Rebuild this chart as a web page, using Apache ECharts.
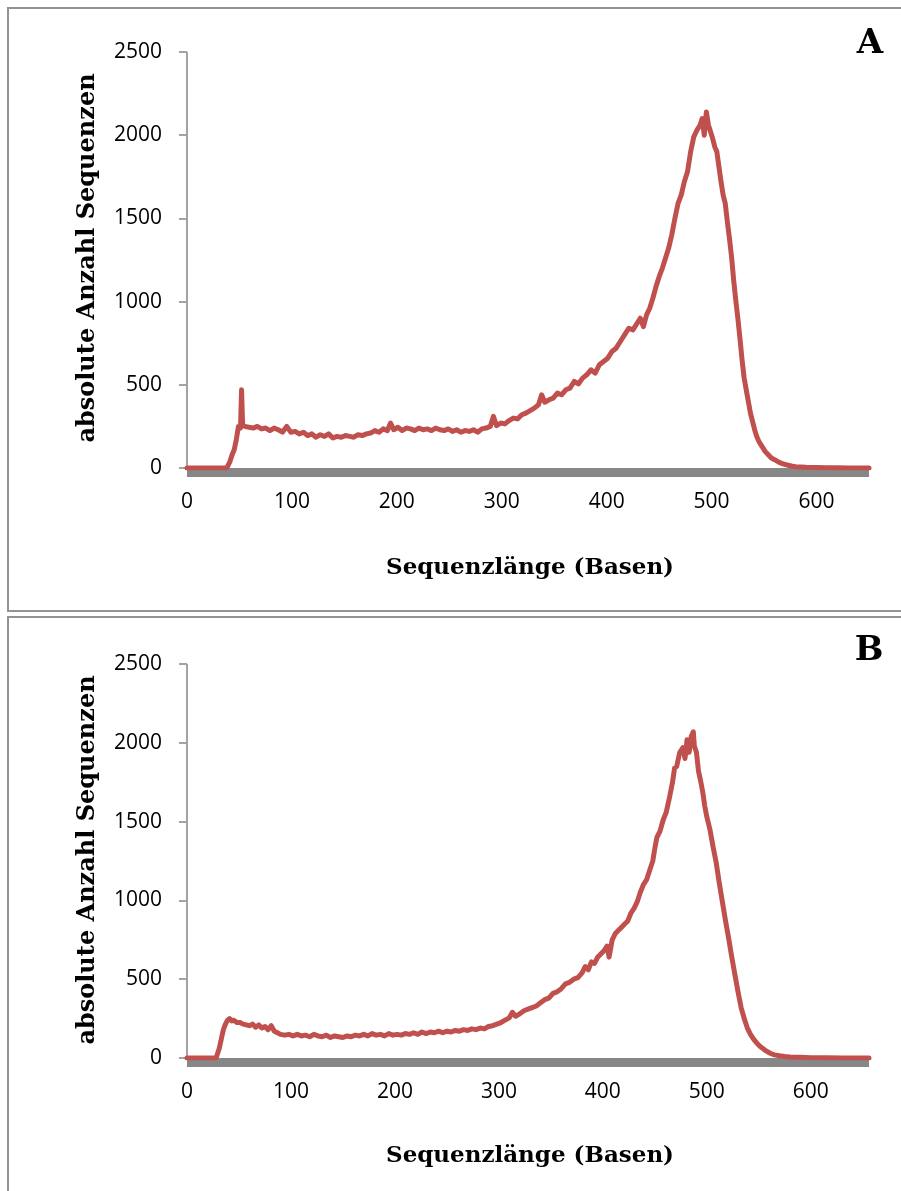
<!DOCTYPE html>
<html>
<head>
<meta charset="utf-8">
<script src="https://cdn.jsdelivr.net/npm/echarts@6/dist/echarts.min.js"></script>
<style>
  html, body { margin: 0; padding: 0; background: #ffffff; }
  #chart { width: 901px; height: 1191px; }
</style>
</head>
<body>
<div id="chart"></div>
<script>
// Read-length distribution, run A: sequence length (bases) and absolute number of reads
const lengthsA = [0,38,39,41,43,45,47,49,51,52,53,55,
  59,63,67,71,75,79,83,87,91,95,99,103,107,111,115,119,123,127,131,135,139,143,147,151,155,159,163,167,171,175,179,183,187,191,
  194,197,
  201,205,209,213,217,221,225,229,233,237,241,245,249,253,257,261,265,269,273,277,281,285,289,
  292,295,
  299,303,307,311,315,319,323,327,331,335,
  338,
  341,345,349,353,357,361,365,369,373,377,381,385,389,393,397,401,405,409,413,417,421,425,429,
  432,435,438,441,444,447,450,453,456,459,462,465,468,471,474,477,480,483,486,489,
  491,493,495,497,499,501,503,505,507,509,511,513,515,517,519,521,523,525,527,529,531,533,535,537,539,541,543,545,
  548,551,554,557,560,564,568,572,576,580,585,590,600,610,620,630,640,650];
const countsA = [0,0,0,40,80,110,170,250,240,470,260,250,
  245,240,250,235,240,225,240,230,215,250,215,220,205,215,195,205,185,200,190,205,180,190,185,195,190,185,200,195,205,210,225,215,235,225,
  270,230,
  245,225,240,235,225,240,230,235,225,240,230,225,235,220,230,215,225,220,230,215,235,240,250,
  310,255,
  270,265,285,300,295,320,330,345,360,380,
  440,
  395,410,420,450,440,470,480,520,505,540,560,590,570,620,640,660,700,720,760,800,840,830,870,
  900,850,920,960,1020,1090,1150,1200,1260,1320,1400,1500,1590,1640,1720,1780,1900,1990,2030,2060,
  2100,2000,2140,2060,2020,1980,1930,1900,1810,1720,1640,1590,1480,1380,1270,1130,1010,900,780,650,540,470,400,330,280,230,190,160,
  130,100,80,60,50,35,25,18,12,8,6,4,3,2,1,0,0,0];

// Read-length distribution, run B
const lengthsB = [0,28,29,31,33,35,37,39,41,43,45,
  48,51,54,57,60,63,66,69,72,75,78,81,84,87,90,
  94,98,102,106,110,114,118,122,126,130,134,138,142,146,150,154,158,162,166,170,174,178,182,186,190,194,198,202,206,210,
  214,218,222,226,230,234,238,242,246,250,254,258,262,266,270,274,278,282,286,290,294,298,302,306,310,
  313,
  316,320,324,328,332,336,340,344,348,352,356,360,364,368,372,376,380,
  383,386,389,392,395,398,401,404,
  406,
  409,412,415,418,421,424,427,430,433,436,439,442,445,448,
  450,452,
  455,458,461,464,467,
  469,471,474,477,479,481,483,485,487,488,490,492,494,496,498,500,
  503,506,509,512,515,518,521,524,527,530,533,536,539,542,545,
  548,551,554,557,561,565,570,575,580,590,600,615,630,645,656];
const countsB = [0,0,0,60,120,180,215,240,250,235,240,
  225,225,215,210,205,215,195,210,190,200,180,205,170,160,150,
  145,150,140,150,140,145,135,150,140,135,145,130,140,135,130,140,135,145,140,150,140,155,145,150,140,155,145,150,145,155,
  150,160,150,165,155,165,160,170,160,170,165,175,170,180,175,185,180,190,185,200,205,215,225,240,255,
  290,
  265,280,300,310,320,330,350,370,380,410,420,440,470,480,500,510,540,
  580,560,610,600,640,660,680,710,
  640,
  750,790,810,830,850,870,920,950,990,1050,1100,1130,1190,1250,
  1330,1400,
  1440,1510,1560,1650,1750,
  1840,1850,1940,1970,1900,2020,1940,2040,2070,1980,1940,1820,1760,1690,1600,1530,
  1450,1340,1240,1110,990,870,760,640,530,420,320,250,190,150,120,
  95,75,60,45,30,20,14,10,7,4,2,1,0,0,0];

// Axis ranges and tick steps
const xMaxA = 650;
const xMaxB = 656;
const xStep = 100;
const yMax = 2500;
const yStep = 500;

const panelLetters = ['A', 'B'];
const xTitle = 'Sequenzlänge (Basen)';
const yTitle = 'absolute Anzahl Sequenzen';

const RED = '#c0504d';
const AXIS_GRAY = '#a3a3a3';
const BAND_GRAY = '#878787';
const FRAME_GRAY = '#939393';
const TICK_FONT = '"Open Sans", "Noto Sans", sans-serif';
const TITLE_FONT = '"DejaVu Serif", serif';

function pairs(xs, ys) {
  return xs.map((x, i) => [x, ys[i]]);
}

const plainNumber = v => String(v);

function xAxisFor(gridIndex, max) {
  return {
    type: 'value', gridIndex, min: 0, max, interval: xStep,
    offset: 4,
    axisLine: { show: true, onZero: false, lineStyle: { color: BAND_GRAY, width: 9, cap: 'butt' } },
    axisTick: { show: false },
    splitLine: { show: false },
    axisLabel: { show: true, showMaxLabel: false, margin: 20, color: '#000', fontSize: 21, fontFamily: TICK_FONT, formatter: plainNumber }
  };
}

function yAxisFor(gridIndex) {
  return {
    type: 'value', gridIndex, min: 0, max: yMax, interval: yStep,
    axisLine: { show: true, lineStyle: { color: AXIS_GRAY, width: 2, cap: 'butt' } },
    axisTick: { show: true, length: 8, inside: false, lineStyle: { color: AXIS_GRAY, width: 2 } },
    splitLine: { show: false },
    axisLabel: { show: true, margin: 25, color: '#000', fontSize: 21, fontFamily: TICK_FONT, formatter: plainNumber }
  };
}

function lineSeries(idx, data) {
  return {
    type: 'line', xAxisIndex: idx, yAxisIndex: idx,
    data, showSymbol: false, symbol: 'none', smooth: false,
    lineStyle: { color: RED, width: 5, join: 'round', cap: 'round' },
    z: 3
  };
}

function textEl(text, x, y, size, rotation) {
  return {
    type: 'text', x, y, rotation: rotation || 0, z: 10,
    style: {
      text, fill: '#000', font: 'bold ' + size + 'px ' + TITLE_FONT,
      textAlign: 'center', textVerticalAlign: 'middle',
      align: 'center', verticalAlign: 'middle'
    }
  };
}

const chart = echarts.init(document.getElementById('chart'), null, { renderer: 'canvas' });

chart.setOption({
  animation: false,
  backgroundColor: '#ffffff',
  grid: [
    { left: 187, top: 52, width: 682, height: 416, containLabel: false, outerBoundsMode: 'none' },
    { left: 187, top: 664, width: 682, height: 394, containLabel: false, outerBoundsMode: 'none' }
  ],
  xAxis: [xAxisFor(0, xMaxA), xAxisFor(1, xMaxB)],
  yAxis: [yAxisFor(0), yAxisFor(1)],
  series: [
    lineSeries(0, pairs(lengthsA, countsA)),
    lineSeries(1, pairs(lengthsB, countsB))
  ],
  graphic: {
    elements: [
      { type: 'rect', shape: { x: 8, y: 8, width: 1000, height: 603 }, style: { fill: 'none', stroke: FRAME_GRAY, lineWidth: 2 }, z: 1 },
      { type: 'rect', shape: { x: 8, y: 617, width: 1000, height: 700 }, style: { fill: 'none', stroke: FRAME_GRAY, lineWidth: 2 }, z: 1 },
      textEl(yTitle, 88, 258, 24, Math.PI / 2),
      textEl(yTitle, 88, 860, 24, Math.PI / 2),
      textEl(xTitle, 530, 568, 23),
      textEl(xTitle, 530, 1156, 23),
      textEl(panelLetters[0], 870, 44, 34),
      textEl(panelLetters[1], 869, 651, 34)
    ]
  }
});
</script>
</body>
</html>
